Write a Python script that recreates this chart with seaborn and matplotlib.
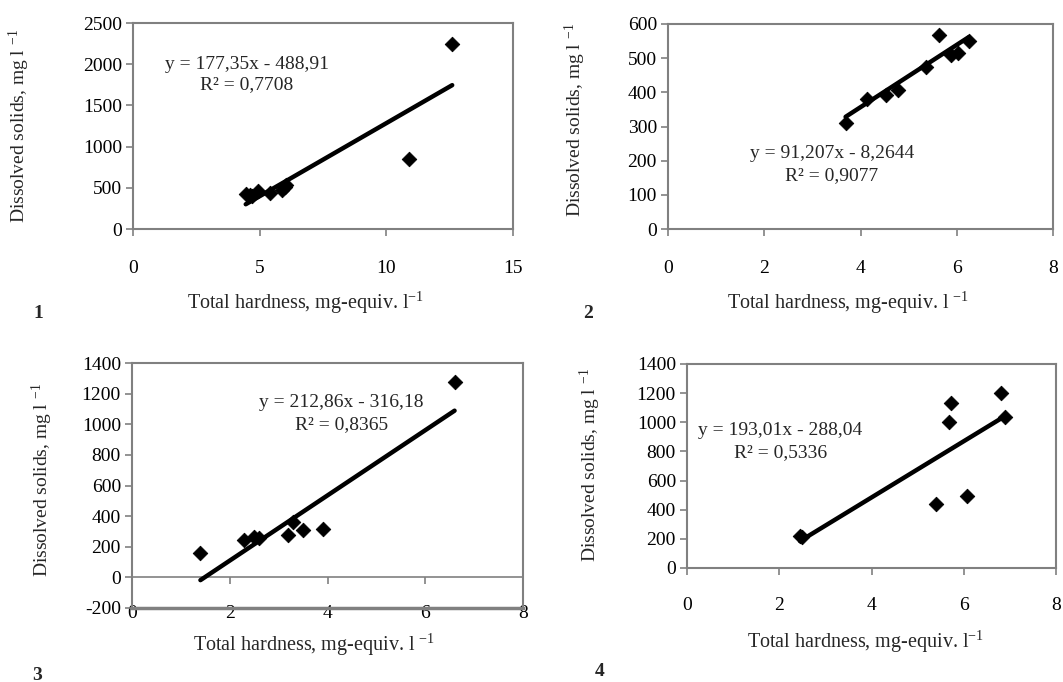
import numpy as np
import pandas as pd
import matplotlib
matplotlib.use("Agg")
import matplotlib.pyplot as plt
import seaborn as sns

# values (total hardness vs dissolved solids)
hard_1 = [4.45, 4.6, 4.7, 4.95, 5.4, 5.9, 6.0, 6.05, 10.9, 12.6]
tds_1 = [430, 410, 405, 460, 440, 470, 505, 530, 850, 2250]
fit_1 = [177.35, -488.91]
r2_1 = "0,7708"

hard_2 = [3.69, 4.13, 4.54, 4.78, 5.37, 5.63, 5.89, 6.02, 6.25]
tds_2 = [311, 380, 391, 406, 475, 567, 509, 514, 550]
fit_2 = [91.207, -8.2644]
r2_2 = "0,9077"

hard_3 = [1.4, 2.3, 2.5, 2.6, 3.2, 3.3, 3.5, 3.9, 6.6]
tds_3 = [159, 246, 263, 254, 279, 361, 307, 318, 1274]
fit_3 = [212.86, -316.18]
r2_3 = "0,8365"

hard_4 = [2.45, 2.5, 5.4, 5.67, 5.73, 6.08, 6.8, 6.9]
tds_4 = [223, 210, 442, 1001, 1135, 492, 1204, 1035]
fit_4 = [193.01, -288.04]
r2_4 = "0,5336"

eq_1 = "y = 177,35x - 488,91"
eq_2 = "y = 91,207x - 8,2644"
eq_3 = "y = 212,86x - 316,18"
eq_4 = "y = 193,01x - 288,04"

xlab_a = "Total hardness, mg-equiv. l$^{-1}$"
xlab_b = "Total hardness, mg-equiv. l $^{-1}$"
ylab = "Dissolved solids, mg l $^{-1}$"

sns.set_style("white")
plt.rcParams["font.family"] = ["Liberation Serif", "DejaVu Serif"]
plt.rcParams["mathtext.default"] = "regular"
plt.rcParams["axes.unicode_minus"] = False
plt.rcParams["font.size"] = 14

GRAY = "#808080"
W, H = 1063, 682
fig = plt.figure(figsize=(W / 100, H / 100), dpi=100)


def px_axes(l, r, t, b):
    return fig.add_axes([l / W, (H - b) / H, (r - l) / W, (b - t) / H])


def panel(ax, hard, tds, fit, eq, r2, xlim, xticks, ylim, yticks, txt, xpad):
    df = pd.DataFrame({"hard": hard, "tds": tds})
    sns.scatterplot(data=df, x="hard", y="tds", marker="D", s=55,
                    color="black", edgecolor="black", ax=ax, zorder=3)
    xs = np.array([df["hard"].min(), df["hard"].max()])
    ys = fit[0] * xs + fit[1]
    sns.lineplot(x=xs, y=ys, color="black", linewidth=3.2, ax=ax, zorder=2)
    ax.set_xlim(*xlim)
    ax.set_ylim(*ylim)
    ax.set_xticks(xticks)
    ax.set_yticks(yticks)
    for sp in ax.spines.values():
        sp.set_color(GRAY)
        sp.set_linewidth(1.5)
    ax.tick_params(axis="both", colors=GRAY, labelcolor="black",
                   length=5, width=1.2, labelsize=14, direction="out",
                   bottom=True, left=True)
    ax.tick_params(axis="x", pad=xpad)
    ax.tick_params(axis="y", pad=3)
    ax.set_xlabel("")
    ax.set_ylabel("")
    ax.text(txt[0], txt[1], eq, transform=ax.transAxes, ha="center",
            va="center", fontsize=14)
    ax.text(txt[0], txt[2], "R² = " + r2, transform=ax.transAxes,
            ha="center", va="center", fontsize=14)


ax1 = px_axes(133, 513, 23, 229)
panel(ax1, hard_1, tds_1, fit_1, eq_1, r2_1, (0, 15), [0, 5, 10, 15],
      (0, 2500), range(0, 2501, 500), (0.30, 0.80, 0.70), 17)

ax2 = px_axes(668, 1053, 24, 229)
panel(ax2, hard_2, tds_2, fit_2, eq_2, r2_2, (0, 8), [0, 2, 4, 6, 8],
      (0, 600), range(0, 601, 100), (0.426, 0.37, 0.26), 17)

ax3 = px_axes(132, 523, 363, 608)
panel(ax3, hard_3, tds_3, fit_3, eq_3, r2_3, (0, 8), [0, 2, 4, 6, 8],
      (-200, 1400), range(-200, 1401, 200), (0.535, 0.84, 0.747), -2)
ax3.spines["bottom"].set_linewidth(2.5)
ax3.tick_params(axis="x", length=0)
zero = ax3.secondary_xaxis(0, transform=ax3.transData)
zero.set_xticks([0, 2, 4, 6, 8])
zero.tick_params(axis="x", colors=GRAY, length=5, width=1.2, labelbottom=False)
zero.spines["bottom"].set_color(GRAY)
zero.spines["bottom"].set_linewidth(1.2)

ax4 = px_axes(687, 1056, 364, 568)
panel(ax4, hard_4, tds_4, fit_4, eq_4, r2_4, (0, 8), [0, 2, 4, 6, 8],
      (0, 1400), range(0, 1401, 200), (0.253, 0.673, 0.566), 16)

# axis titles and panel numbers
fig.text(306 / W, 1 - 303 / H, xlab_a, ha="center", va="center", fontsize=14.5)
fig.text(848 / W, 1 - 303 / H, xlab_b, ha="center", va="center", fontsize=14.5)
fig.text(314 / W, 1 - 645 / H, xlab_b, ha="center", va="center", fontsize=14.5)
fig.text(866 / W, 1 - 642 / H, xlab_a, ha="center", va="center", fontsize=14.5)

fig.text(19 / W, 1 - 126 / H, ylab, rotation=90, ha="center", va="center", fontsize=14)
fig.text(575 / W, 1 - 120 / H, ylab, rotation=90, ha="center", va="center", fontsize=14)
fig.text(42 / W, 1 - 480 / H, ylab, rotation=90, ha="center", va="center", fontsize=14)
fig.text(590 / W, 1 - 465 / H, ylab, rotation=90, ha="center", va="center", fontsize=14)

for num, x, y in [("1", 38, 313), ("2", 588, 313), ("3", 37, 675), ("4", 600, 672)]:
    fig.text(x / W, 1 - y / H, num, ha="center", va="center",
             fontsize=14, fontweight="bold")

fig.savefig("out.png", dpi=100)
